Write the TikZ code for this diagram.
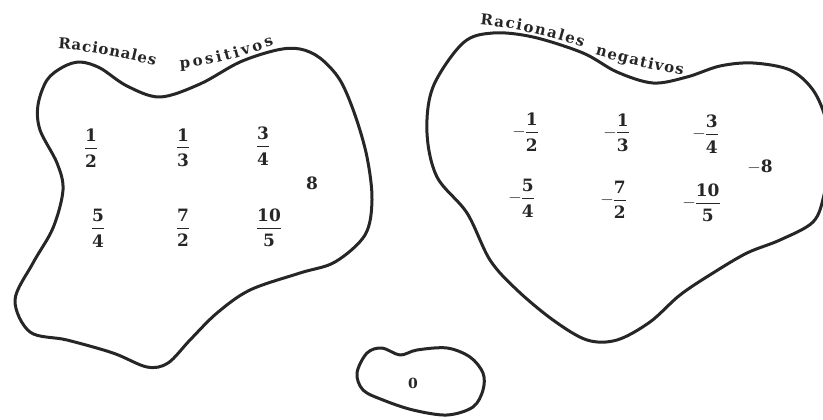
\documentclass[tikz,border=0pt]{standalone}
\usepackage{fontspec}
\setmainfont{DejaVu Serif}
\usetikzlibrary{decorations.text}
\newcommand\fr[2]{\ensuremath{\vcenter{\offinterlineskip\halign{\hfil##\hfil\cr\rule{0pt}{12.5pt}#1\cr\noalign{\kern6pt}\leaders\hrule height 0.8pt\hfill\cr\noalign{\kern6pt}\rule{0pt}{12.5pt}#2\cr}}}}
\newcommand\nfr[2]{$-\fr{#1}{#2}$}
\newcommand\labfont{\fontsize{15}{18}\bfseries}
\tikzset{
  blob/.style={draw=black!85, line width=3pt, line join=round},
  num/.style={inner sep=0pt, font=\fontsize{17}{20}\selectfont\bfseries, text=black!85},
  lab/.style={decorate, decoration={text along path, text align={fit to path}, text color=black!85}},
}
\begin{document}
\begin{tikzpicture}[x=1pt,y=-1pt]
\useasboundingbox (0,0) rectangle (823,420);
\clip (0,0) rectangle (823,420);
% left blob
\draw[blob] plot[smooth cycle, tension=0.55] coordinates {
 (80,62) (100,68) (127,86) (160,97) (200,84) (240,62) (277,50) (300,49) (320,58) (340,80) (355,115) (367,157) (372,200) (365,235) (335,262) (300,273) (250,290) (217,313) (190,340) (168,363) (147,367) (113,353) (67,340) (30,332) (15,300) (33,263) (53,228) (63,190) (57,163) (40,130) (38,105) (47,80) (63,67)};
% right blob
\draw[blob] plot[smooth cycle, tension=0.55] coordinates {
 (463,43) (493,33) (533,37) (583,53) (617,72) (653,83) (687,77) (720,66) (753,63) (790,70) (813,90) (826,120) (830,155) (824,195) (813,222) (780,240) (747,253) (713,273) (680,295) (650,322) (617,340) (587,340) (553,320) (517,290) (490,260) (467,213) (437,177) (427,133) (433,87)};
% small blob
\draw[blob] plot[smooth cycle, tension=0.55] coordinates {
 (367,353) (382,348) (400,355) (417,350) (447,348) (470,357) (483,373) (483,390) (473,407) (447,415) (413,410) (383,400) (363,390) (357,373)};
% labels
\path[lab, decoration={text={|\labfont|Racionales}}] (58,49) .. controls (95,51) and (128,59) .. (155,66);
\path[lab, decoration={text={|\labfont|positivos}}] (180,68) .. controls (212,66) and (242,57) .. (274,45);
\path[lab, decoration={text={|\labfont|Racionales}}] (480,25) .. controls (515,28) and (550,36) .. (583,47);
\path[lab, decoration={text={|\labfont|negativos}}] (595,55) .. controls (622,62) and (650,70) .. (683,75);
% left numbers
\node[num] (p1) at (91,148) {\fr{1}{2}};
\node[num] (p2) at (183,148) {\fr{1}{3}};
\node[num] (p3) at (263,146) {\fr{3}{4}};
\node[num] (p8) at (312,183) {8};
\node[num] (p4) at (98,228) {\fr{5}{4}};
\node[num] (p5) at (183,228) {\fr{7}{2}};
\node[num] (p6) at (269,228) {\fr{10}{5}};
% right numbers
\node[num] (n1) at (525,132) {\nfr{1}{2}};
\node[num] (n2) at (616,133) {\nfr{1}{3}};
\node[num] (n3) at (705,134) {\nfr{3}{4}};
\node[num] (n8) at (760,167) {$-$8};
\node[num] (n4) at (521,198) {\nfr{5}{4}};
\node[num] (n5) at (613,200) {\nfr{7}{2}};
\node[num] (n6) at (701,203) {\nfr{10}{5}};
% zero
\node[num, font=\fontsize{14}{16}\selectfont\bfseries] (z) at (413,383) {0};
\end{tikzpicture}
\end{document}
